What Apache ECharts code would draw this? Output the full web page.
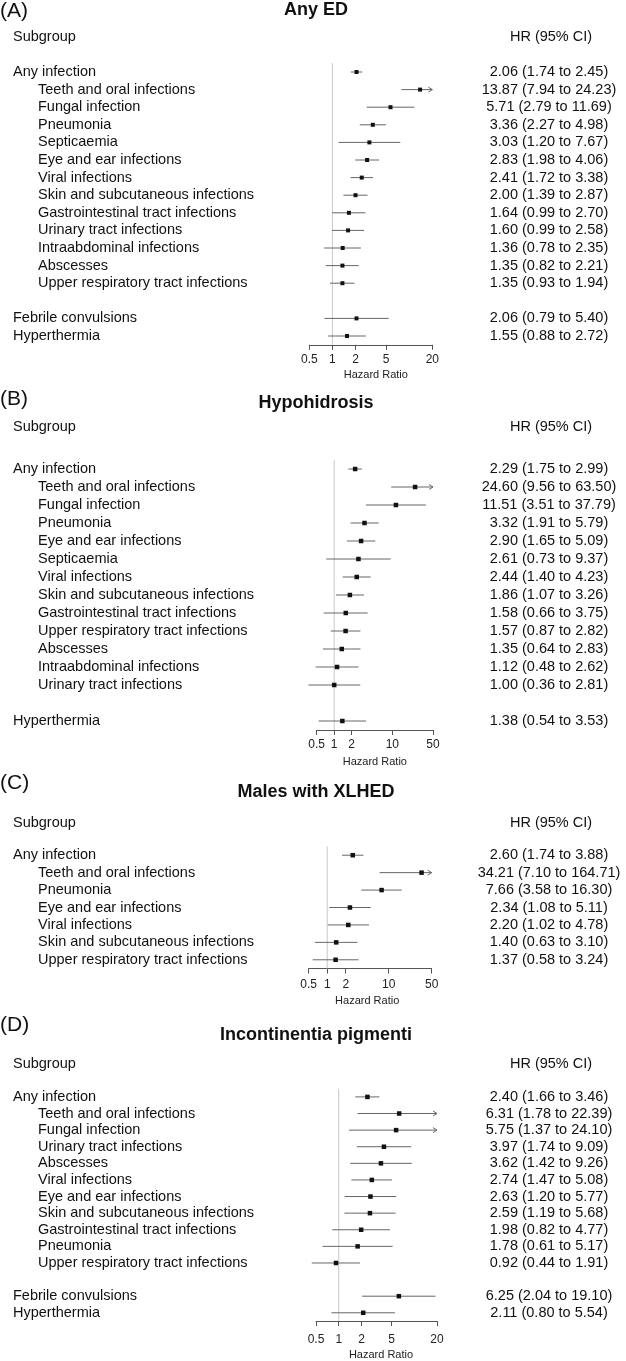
<!DOCTYPE html>
<html><head><meta charset="utf-8">
<script src="https://cdn.jsdelivr.net/npm/echarts@6/dist/echarts.min.js"></script>
<style>html,body{margin:0;padding:0;background:#fff}#c{width:626px;height:1361px}</style>
</head><body><div id="c"></div>
<script>
// ---------- DATA ----------
const panelLetters = ['(A)', '(B)', '(C)', '(D)'];
const panelTitles = ['Any ED', 'Hypohidrosis', 'Males with XLHED', 'Incontinentia pigmenti'];
const colHeaders = ['Subgroup', 'HR (95% CI)'];
const axisTitle = 'Hazard Ratio';
const topLevel = ['Any infection', 'Febrile convulsions', 'Hyperthermia'];
const refValue = 1;

const aLabels = ['Any infection', 'Teeth and oral infections', 'Fungal infection', 'Pneumonia', 'Septicaemia',
  'Eye and ear infections', 'Viral infections', 'Skin and subcutaneous infections', 'Gastrointestinal tract infections',
  'Urinary tract infections', 'Intraabdominal infections', 'Abscesses', 'Upper respiratory tract infections', '',
  'Febrile convulsions', 'Hyperthermia'];
const aHR = [2.06, 13.87, 5.71, 3.36, 3.03, 2.83, 2.41, 2.00, 1.64, 1.60, 1.36, 1.35, 1.35, null, 2.06, 1.55];
const aLo = [1.74, 7.94, 2.79, 2.27, 1.20, 1.98, 1.72, 1.39, 0.99, 0.99, 0.78, 0.82, 0.93, null, 0.79, 0.88];
const aHi = [2.45, 24.23, 11.69, 4.98, 7.67, 4.06, 3.38, 2.87, 2.70, 2.58, 2.35, 2.21, 1.94, null, 5.40, 2.72];
const aTicks = [0.5, 1, 2, 5, 20];

const bLabels = ['Any infection', 'Teeth and oral infections', 'Fungal infection', 'Pneumonia', 'Eye and ear infections',
  'Septicaemia', 'Viral infections', 'Skin and subcutaneous infections', 'Gastrointestinal tract infections',
  'Upper respiratory tract infections', 'Abscesses', 'Intraabdominal infections', 'Urinary tract infections', '',
  'Hyperthermia'];
const bHR = [2.29, 24.60, 11.51, 3.32, 2.90, 2.61, 2.44, 1.86, 1.58, 1.57, 1.35, 1.12, 1.00, null, 1.38];
const bLo = [1.75, 9.56, 3.51, 1.91, 1.65, 0.73, 1.40, 1.07, 0.66, 0.87, 0.64, 0.48, 0.36, null, 0.54];
const bHi = [2.99, 63.50, 37.79, 5.79, 5.09, 9.37, 4.23, 3.26, 3.75, 2.82, 2.83, 2.62, 2.81, null, 3.53];
const bTicks = [0.5, 1, 2, 10, 50];

const cLabels = ['Any infection', 'Teeth and oral infections', 'Pneumonia', 'Eye and ear infections', 'Viral infections',
  'Skin and subcutaneous infections', 'Upper respiratory tract infections'];
const cHR = [2.60, 34.21, 7.66, 2.34, 2.20, 1.40, 1.37];
const cLo = [1.74, 7.10, 3.58, 1.08, 1.02, 0.63, 0.58];
const cHi = [3.88, 164.71, 16.30, 5.11, 4.78, 3.10, 3.24];
const cTicks = [0.5, 1, 2, 10, 50];

const dLabels = ['Any infection', 'Teeth and oral infections', 'Fungal infection', 'Urinary tract infections', 'Abscesses',
  'Viral infections', 'Eye and ear infections', 'Skin and subcutaneous infections', 'Gastrointestinal tract infections',
  'Pneumonia', 'Upper respiratory tract infections', '', 'Febrile convulsions', 'Hyperthermia'];
const dHR = [2.40, 6.31, 5.75, 3.97, 3.62, 2.74, 2.63, 2.59, 1.98, 1.78, 0.92, null, 6.25, 2.11];
const dLo = [1.66, 1.78, 1.37, 1.74, 1.42, 1.47, 1.20, 1.19, 0.82, 0.61, 0.44, null, 2.04, 0.80];
const dHi = [3.46, 22.39, 24.10, 9.09, 9.26, 5.08, 5.77, 5.68, 4.77, 5.17, 1.91, null, 19.10, 5.54];
const dTicks = [0.5, 1, 2, 5, 20];

// ---------- LAYOUT ----------
const FONT = '"Liberation Sans", Arial, Helvetica, sans-serif';
const TEXT_SIZE = 14.5;
const layouts = [
  {left: 309.3, width: 123, top: 63.2, rowH: 17.6, letterY: 11, titleY: 10, headY: 37, labelMargin: 9, nameGap: 24.5, nameShift: 5, ms: 4},
  {left: 316.7, width: 116.3, top: 460, rowH: 18, letterY: 399, titleY: 403, headY: 427, labelMargin: 9, nameGap: 26.5, nameShift: 0, ms: 4.5},
  {left: 308.7, width: 123, top: 846.5, rowH: 17.43, letterY: 783, titleY: 792, headY: 823, labelMargin: 9.7, nameGap: 27.2, nameShift: -3, ms: 4.5},
  {left: 316, width: 121, top: 1088.6, rowH: 16.8, letterY: 1025, titleY: 1035, headY: 1064, labelMargin: 12.7, nameGap: 27.9, nameShift: 4.5, ms: 4.5}
];
const HR_X = 549, LABEL_X = 13, TITLE_X = 316, HEAD_HR_X = 551;

const panels = [
  {labels: aLabels, hr: aHR, lo: aLo, hi: aHi, ticks: aTicks},
  {labels: bLabels, hr: bHR, lo: bLo, hi: bHi, ticks: bTicks},
  {labels: cLabels, hr: cHR, lo: cLo, hi: cHi, ticks: cTicks},
  {labels: dLabels, hr: dHR, lo: dLo, hi: dHi, ticks: dTicks}
];

const fmt = v => v.toFixed(2);
const lineColor = '#666';

function makeRender(axMax, ms) {
  return function (params, api) {
    const lo = api.value(0), hi = api.value(1), hr = api.value(2), row = api.value(3);
    const a = api.coord([lo, row]);
    const b = api.coord([Math.min(hi, axMax), row]);
    const c = api.coord([hr, row]);
    const ch = [{type: 'line', shape: {x1: a[0], y1: a[1], x2: b[0], y2: b[1]}, style: {stroke: lineColor, lineWidth: 1}}];
    if (hi > axMax) {
      ch.push({type: 'polyline', shape: {points: [[b[0] - 4, b[1] - 2.5], [b[0], b[1]], [b[0] - 4, b[1] + 2.5]]},
        style: {stroke: lineColor, lineWidth: 1, fill: null}});
    }
    ch.push({type: 'rect', shape: {x: c[0] - ms / 2, y: c[1] - ms / 2, width: ms, height: ms}, style: {fill: '#111'}});
    return {type: 'group', children: ch};
  };
}

function renderRef(params, api) {
  const cs = params.coordSys;
  const p = api.coord([api.value(0), api.value(1)]);
  return {type: 'line', shape: {x1: p[0], y1: cs.y, x2: p[0], y2: cs.y + cs.height},
    style: {stroke: '#c8c8c8', lineWidth: 1}};
}

const grids = [], xAxes = [], yAxes = [], series = [], graphics = [];
panels.forEach((p, i) => {
  const L = layouts[i];
  const n = p.labels.length;
  const axMin = p.ticks[0], axMax = p.ticks[p.ticks.length - 1];
  grids.push({left: L.left, top: L.top, width: L.width, height: L.rowH * n});
  const pad = L.nameShift >= 0 ? [0, 0, 0, 2 * L.nameShift] : [0, -2 * L.nameShift, 0, 0];
  xAxes.push({
    type: 'log', logBase: 10, gridIndex: i, min: axMin, max: axMax,
    axisLine: {show: true, lineStyle: {color: '#555', width: 1}},
    axisTick: {show: true, length: 5, customValues: p.ticks, lineStyle: {color: '#555', width: 1}},
    axisLabel: {customValues: p.ticks, margin: L.labelMargin, fontSize: 12, color: '#222', fontFamily: FONT,
      formatter: v => String(Math.round(v * 100) / 100), showMinLabel: true, showMaxLabel: true},
    splitLine: {show: false}, minorTick: {show: false}, minorSplitLine: {show: false},
    name: axisTitle, nameLocation: 'middle', nameGap: L.nameGap,
    nameTextStyle: {fontSize: 11, color: '#222', fontFamily: FONT, padding: pad}
  });
  const hrText = p.labels.map((lab, k) => p.hr[k] == null ? '' : fmt(p.hr[k]) + ' (' + fmt(p.lo[k]) + ' to ' + fmt(p.hi[k]) + ')');
  yAxes.push({
    type: 'category', gridIndex: i, data: p.labels, inverse: true, position: 'left',
    axisLine: {show: false}, axisTick: {show: false}, splitLine: {show: false},
    axisLabel: {interval: 0, align: 'left', margin: L.left - LABEL_X,
      formatter: v => v === '' ? '' : (topLevel.includes(v) ? '{m|' + v + '}' : '{s|' + v + '}'),
      rich: {m: {fontSize: TEXT_SIZE, fontFamily: FONT, color: '#111'},
             s: {fontSize: TEXT_SIZE, fontFamily: FONT, color: '#111', padding: [0, 0, 0, 25]}}}
  });
  yAxes.push({
    type: 'category', gridIndex: i, data: hrText, inverse: true, position: 'right',
    axisLine: {show: false}, axisTick: {show: false}, splitLine: {show: false},
    axisLabel: {interval: 0, align: 'center', margin: HR_X - (L.left + L.width), fontSize: TEXT_SIZE, fontFamily: FONT, color: '#111'}
  });
  const rows = [];
  p.labels.forEach((lab, k) => { if (p.hr[k] != null) rows.push([p.lo[k], p.hi[k], p.hr[k], k]); });
  series.push({
    type: 'custom', xAxisIndex: i, yAxisIndex: 2 * i, data: [[refValue, 0]], silent: true,
    dimensions: ['x', 'row'], encode: {x: 0, y: 1},
    renderItem: renderRef, z: 2
  });
  series.push({
    type: 'custom', xAxisIndex: i, yAxisIndex: 2 * i, data: rows, silent: true,
    dimensions: ['lo', 'hi', 'hr', 'row'],
    encode: {x: [0, 1, 2], y: 3},
    renderItem: makeRender(axMax, L.ms),
    z: 3
  });
  const txt = (x, y, text, font, align) => ({type: 'text', x: x, y: y, silent: true,
    style: {text: text, font: font, fill: '#111', textAlign: align, textVerticalAlign: 'middle', align: align, verticalAlign: 'middle'}});
  graphics.push(txt(0, L.letterY, panelLetters[i], '21px ' + FONT, 'left'));
  graphics.push(txt(TITLE_X, L.titleY, panelTitles[i], 'bold 18px ' + FONT, 'center'));
  graphics.push(txt(LABEL_X, L.headY, colHeaders[0], TEXT_SIZE + 'px ' + FONT, 'left'));
  graphics.push(txt(HEAD_HR_X, L.headY, colHeaders[1], TEXT_SIZE + 'px ' + FONT, 'center'));
});

const chart = echarts.init(document.getElementById('c'), null, {renderer: 'canvas', width: 626, height: 1361});
chart.setOption({
  animation: false,
  backgroundColor: '#fff',
  grid: grids, xAxis: xAxes, yAxis: yAxes, series: series,
  graphic: {elements: graphics}
});
</script>
</body></html>
